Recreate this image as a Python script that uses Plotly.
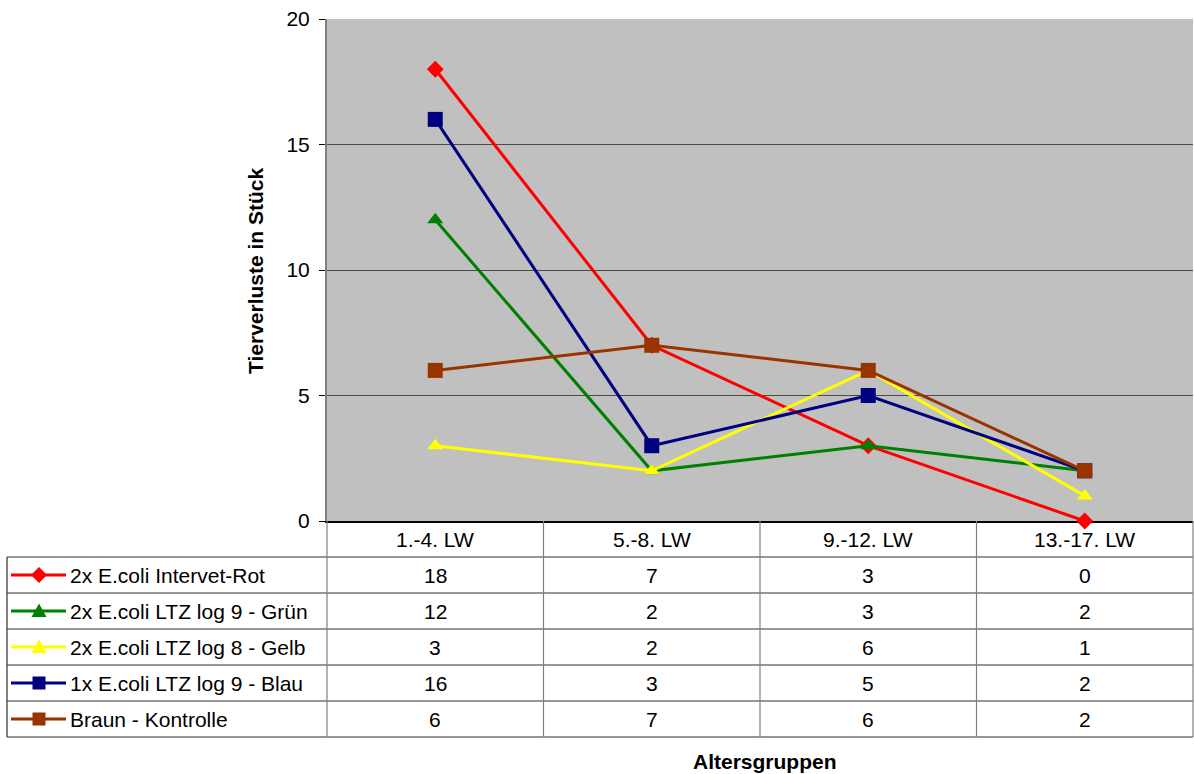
import plotly.graph_objects as go

# Age groups (x categories) and losses per group for each trial arm
categories = ["1.-4. LW", "5.-8. LW", "9.-12. LW", "13.-17. LW"]
series_names = [
    "2x E.coli Intervet-Rot",
    "2x E.coli LTZ log 9 - Grün",
    "2x E.coli LTZ log 8 - Gelb",
    "1x E.coli LTZ log 9 - Blau",
    "Braun - Kontrolle",
]
rot = [18, 7, 3, 0]
gruen = [12, 2, 3, 2]
gelb = [3, 2, 6, 1]
blau = [16, 3, 5, 2]
braun = [6, 7, 6, 2]
series_values = [rot, gruen, gelb, blau, braun]
y_ticks = [0, 5, 10, 15, 20]

colors = ["#FF0000", "#008000", "#FFFF00", "#000080", "#993300"]
symbols = ["diamond", "triangle-up", "triangle-up", "square", "square"]
msizes = [13, 14, 14, 15, 15]

W, H = 1194, 774
FONT = "Liberation Sans, Arial, sans-serif"

# pixel layout of the plot area and the data table below it
PL, PR, PT, PB = 327, 1193, 19, 521
TABLE_LEFT = 7
ROW_EDGES = [521, 557, 593, 629, 665, 701, 737]


def px(x):
    return x / W


def py(y):
    return 1 - y / H


fig = go.Figure()

xi = list(range(len(categories)))
for name, vals, c, s, ms in zip(series_names, series_values, colors, symbols, msizes):
    fig.add_trace(go.Scatter(
        x=xi, y=vals, name=name, mode="lines+markers",
        line=dict(color=c, width=3),
        marker=dict(symbol=s, size=ms, color=c, line=dict(width=0)),
        cliponaxis=False, showlegend=False,
    ))


def key_marker_path(symbol, cx, cy, r):
    """SVG path in paper units for a legend-key marker centred on (cx, cy) px."""
    if symbol == "diamond":
        pts = [(cx, cy - r), (cx + r, cy), (cx, cy + r), (cx - r, cy)]
    elif symbol == "triangle-up":
        pts = [(cx, cy - r), (cx + r, cy + r * 0.8), (cx - r, cy + r * 0.8)]
    else:
        pts = [(cx - r, cy - r), (cx + r, cy - r), (cx + r, cy + r), (cx - r, cy + r)]
    return "M " + " L ".join(f"{px(x):.5f},{py(y):.5f}" for x, y in pts) + " Z"


shapes = []
# legend keys in the first table column
for i, (c, s) in enumerate(zip(colors, symbols)):
    yc = (ROW_EDGES[i + 1] + ROW_EDGES[i + 2]) / 2
    shapes.append(dict(type="line", xref="paper", yref="paper",
                       x0=px(11), x1=px(66), y0=py(yc), y1=py(yc),
                       line=dict(color=c, width=3)))
    r = 8 if s == "diamond" else 7.5 if s == "triangle-up" else 6.5
    shapes.append(dict(type="path", xref="paper", yref="paper",
                       path=key_marker_path(s, 39, yc, r),
                       fillcolor=c, line=dict(width=0)))

# horizontal table lines
for y in ROW_EDGES[1:]:
    shapes.append(dict(type="line", xref="paper", yref="paper",
                       x0=px(TABLE_LEFT), x1=px(PR), y0=py(y), y1=py(y),
                       line=dict(color="#303030", width=1.2)))
# vertical table lines
shapes.append(dict(type="line", xref="paper", yref="paper",
                   x0=px(TABLE_LEFT), x1=px(TABLE_LEFT), y0=py(ROW_EDGES[1]), y1=py(ROW_EDGES[-1]),
                   line=dict(color="#303030", width=1.2)))
col_w = (PR - PL) / len(categories)
for k in range(len(categories) + 1):
    x = PL + k * col_w
    shapes.append(dict(type="line", xref="paper", yref="paper",
                       x0=px(x), x1=px(x), y0=py(PB), y1=py(ROW_EDGES[-1]),
                       line=dict(color="#808080", width=1.2)))

annotations = []
TXT = dict(size=21, color="black", family=FONT)
# header row and values
for j, cat in enumerate(categories):
    annotations.append(dict(x=j, y=py((ROW_EDGES[0] + ROW_EDGES[1]) / 2), xref="x", yref="paper",
                            text=cat, showarrow=False, font=TXT,
                            xanchor="center", yanchor="middle"))
for i, (name, vals) in enumerate(zip(series_names, series_values)):
    yc = py((ROW_EDGES[i + 1] + ROW_EDGES[i + 2]) / 2)
    annotations.append(dict(x=px(68), y=yc, xref="paper", yref="paper", text=name,
                            showarrow=False, font=TXT,
                            xanchor="left", yanchor="middle"))
    for j, v in enumerate(vals):
        annotations.append(dict(x=j, y=yc, xref="x", yref="paper", text=str(v),
                                showarrow=False, font=TXT,
                                xanchor="center", yanchor="middle"))

# axis titles
annotations.append(dict(x=px(255), y=py(271), xref="paper", yref="paper",
                        text="<b>Tierverluste in Stück</b>", textangle=-90, showarrow=False,
                        font=TXT, xanchor="center", yanchor="middle"))
annotations.append(dict(x=px(765), y=py(761), xref="paper", yref="paper",
                        text="<b>Altersgruppen</b>", showarrow=False,
                        font=TXT, xanchor="center", yanchor="middle"))

fig.update_layout(
    width=W, height=H,
    margin=dict(l=0, r=0, t=0, b=0, pad=0),
    paper_bgcolor="white",
    plot_bgcolor="#C0C0C0",
    font=dict(family=FONT, size=21, color="black"),
    xaxis=dict(domain=[px(PL), px(PR)], range=[-0.5, 3.5], showticklabels=False,
               showgrid=False, zeroline=False, showline=True, linecolor="#000000",
               linewidth=1.5, ticks="", fixedrange=True, automargin=False,
               layer="below traces"),
    yaxis=dict(domain=[py(PB), py(PT)], range=[0, 20], tickvals=y_ticks,
               ticks="outside", ticklen=6, tickcolor="black", tickwidth=1,
               showgrid=True, gridcolor="#4a4a4a", gridwidth=1,
               zeroline=False, showline=True, linecolor="#808080", linewidth=2,
               tickfont=dict(size=21, color="black", family=FONT), ticklabelstandoff=5,
               automargin=False, layer="below traces"),
    shapes=shapes,
    annotations=annotations,
    showlegend=False,
)

fig.write_html("out.html")
